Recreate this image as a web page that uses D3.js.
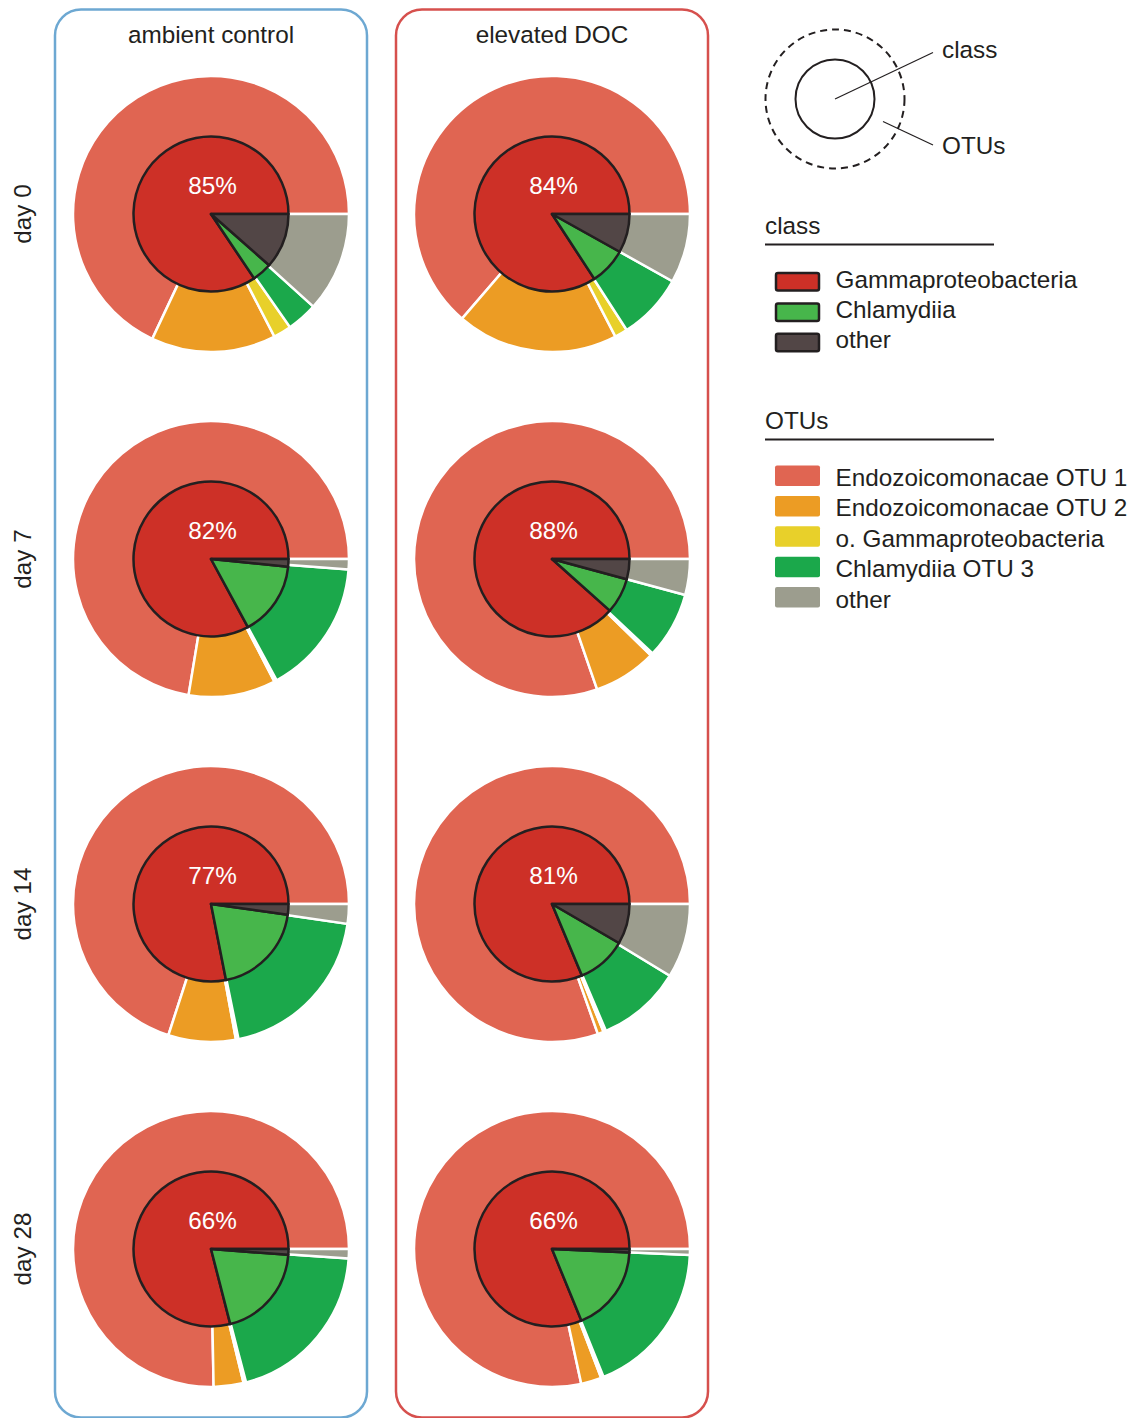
<!DOCTYPE html>
<html>
<head>
<meta charset="utf-8">
<script src="https://cdn.jsdelivr.net/npm/d3@7"></script>
<style>
  html, body { margin: 0; padding: 0; background: #fff; }
  svg { display: block; font-family: "Liberation Sans", Arial, Helvetica, sans-serif; }
</style>
</head>
<body>
<svg id="chart" width="1137" height="1418"></svg>
<script>
// ---------- data ----------
const treatments = ["ambient control", "elevated DOC"];
const days = ["day 0", "day 7", "day 14", "day 28"];

const classNames = ["Gammaproteobacteria", "Chlamydiia", "other"];
const otuNames = ["Endozoicomonacae OTU 1", "Endozoicomonacae OTU 2", "o. Gammaproteobacteria", "Chlamydiia OTU 3", "other"];

// class shares (%) [Gammaproteobacteria, Chlamydiia, other], per day, per treatment
const classAmbient  = [[84.4, 4.1, 11.5], [82.9, 15.5, 1.6], [78.1, 19.7, 2.2], [79.0, 19.8, 1.2]];
const classElevated = [[84.2, 7.7, 8.1],  [88.4, 7.4, 4.2],  [81.3, 10.3, 8.4], [81.2, 18.1, 0.7]];

// OTU shares (%) [OTU 1, OTU 2, o. Gammaproteobacteria, Chlamydiia OTU 3, other]
const otuAmbient  = [[68.0, 14.6, 2.1, 3.6, 11.7], [72.4, 10.2, 0.3, 15.9, 1.2], [70.0, 7.9, 0.3, 19.5, 2.3], [75.3, 3.5, 0.3, 19.8, 1.1]];
const otuElevated = [[63.7, 18.9, 1.5, 7.8, 8.1],  [80.3, 7.4, 0.3, 7.8, 4.2],  [80.4, 0.7, 0.3, 9.9, 8.7], [78.4, 2.4, 0.3, 18.2, 0.7]];

// printed labels
const labelAmbient  = ["85%", "82%", "77%", "66%"];
const labelElevated = ["84%", "88%", "81%", "66%"];

// ---------- styles ----------
const classColors = ["#CD3027", "#47B64B", "#524646"];
const otuColors = ["#E06552", "#EC9C24", "#E8D02A", "#1BA84B", "#9C9D8E"];
const panelColors = ["#6DA8D2", "#D6504D"];
const ink = "#231F20";
const FS = 24.3;

const svg = d3.select("#chart");

const xScale = d3.scalePoint().domain(treatments).range([211, 552]);
const yScale = d3.scalePoint().domain(days).range([214, 1249]);

const classColor = d3.scaleOrdinal().domain(classNames).range(classColors);
const otuColor = d3.scaleOrdinal().domain(otuNames).range(otuColors);

const R_OUT = 138, R_IN = 77.5;

const pie = d3.pie().sort(null).value(d => d.v)
  .startAngle(Math.PI / 2).endAngle(Math.PI / 2 - 2 * Math.PI);
const arcOuter = d3.arc().innerRadius(0).outerRadius(R_OUT);
const arcInner = d3.arc().innerRadius(0).outerRadius(R_IN);

// panels
treatments.forEach((t, i) => {
  const cx = xScale(t);
  svg.append("rect")
    .attr("x", cx - 156).attr("y", 9.5)
    .attr("width", 312).attr("height", 1408)
    .attr("rx", 26).attr("ry", 26)
    .attr("fill", "none").attr("stroke", panelColors[i]).attr("stroke-width", 2.5);
  svg.append("text")
    .attr("x", cx).attr("y", 43)
    .attr("text-anchor", "middle").attr("font-size", FS).attr("fill", ink)
    .text(t);
});

// row labels
days.forEach(d => {
  const cy = yScale(d);
  svg.append("text")
    .attr("transform", `translate(30.5,${cy}) rotate(-90)`)
    .attr("text-anchor", "middle").attr("font-size", FS).attr("fill", ink)
    .text(d);
});

const sets = [
  { t: treatments[0], cls: classAmbient, otu: otuAmbient, lab: labelAmbient },
  { t: treatments[1], cls: classElevated, otu: otuElevated, lab: labelElevated }
];

sets.forEach(s => {
  days.forEach((d, j) => {
    const g = svg.append("g").attr("transform", `translate(${xScale(s.t)},${yScale(d)})`);
    const outerData = pie(s.otu[j].map((v, k) => ({ name: otuNames[k], v })).filter(e => e.v > 0));
    g.selectAll("path.outer").data(outerData).join("path")
      .attr("class", "outer")
      .attr("d", arcOuter)
      .attr("fill", e => otuColor(e.data.name))
      .attr("stroke", "#fff").attr("stroke-width", 2.5).attr("stroke-linejoin", "miter");
    const innerData = pie(s.cls[j].map((v, k) => ({ name: classNames[k], v })));
    g.selectAll("path.inner").data(innerData).join("path")
      .attr("class", "inner")
      .attr("d", arcInner)
      .attr("fill", e => classColor(e.data.name))
      .attr("stroke", ink).attr("stroke-width", 2.5).attr("stroke-linejoin", "round");
    g.append("text")
      .attr("x", 1.5).attr("y", -20)
      .attr("text-anchor", "middle").attr("font-size", FS).attr("fill", "#fff")
      .text(s.lab[j]);
  });
});

// ---------- schematic legend ----------
const sc = { x: 835, y: 99 };
svg.append("circle").attr("cx", sc.x).attr("cy", sc.y).attr("r", 69.5)
  .attr("fill", "none").attr("stroke", ink).attr("stroke-width", 2).attr("stroke-dasharray", "7,5");
svg.append("circle").attr("cx", sc.x).attr("cy", sc.y).attr("r", 39.5)
  .attr("fill", "none").attr("stroke", ink).attr("stroke-width", 2);
svg.append("line").attr("x1", sc.x).attr("y1", sc.y).attr("x2", 933).attr("y2", 52.5)
  .attr("stroke", ink).attr("stroke-width", 1.2);
svg.append("line").attr("x1", 883).attr("y1", 121.5).attr("x2", 933).attr("y2", 145)
  .attr("stroke", ink).attr("stroke-width", 1.2);
svg.append("text").attr("x", 942).attr("y", 58).attr("font-size", FS).attr("fill", ink).text("class");
svg.append("text").attr("x", 942).attr("y", 154).attr("font-size", FS).attr("fill", ink).text("OTUs");

// ---------- legends ----------
const legX = 765;
function legendBlock(title, titleY, names, colorFn, firstRowY, stroked, textDy) {
  svg.append("text").attr("x", legX).attr("y", titleY).attr("font-size", FS).attr("fill", ink).text(title);
  svg.append("line").attr("x1", legX).attr("x2", 994).attr("y1", titleY + 10.5).attr("y2", titleY + 10.5)
    .attr("stroke", ink).attr("stroke-width", 1.8);
  const rowY = d3.scalePoint().domain(names).range([firstRowY, firstRowY + 30.4 * (names.length - 1)]);
  const rows = svg.selectAll(null).data(names).join("g")
    .attr("transform", n => `translate(0,${rowY(n)})`);
  rows.append("rect")
    .attr("x", stroked ? 776 : 775).attr("y", stroked ? 1 : 0)
    .attr("width", stroked ? 43 : 45).attr("height", stroked ? 17.5 : 20.5)
    .attr("rx", 2)
    .attr("fill", n => colorFn(n))
    .attr("stroke", stroked ? ink : "none").attr("stroke-width", 2.5);
  rows.append("text").attr("x", 835.5).attr("y", textDy)
    .attr("font-size", FS).attr("fill", ink).text(n => n);
}
legendBlock("class", 234, classNames, n => classColor(n), 272, true, 15.5);
legendBlock("OTUs", 429, otuNames, n => otuColor(n), 465.5, false, 20.5);
</script>
</body>
</html>
